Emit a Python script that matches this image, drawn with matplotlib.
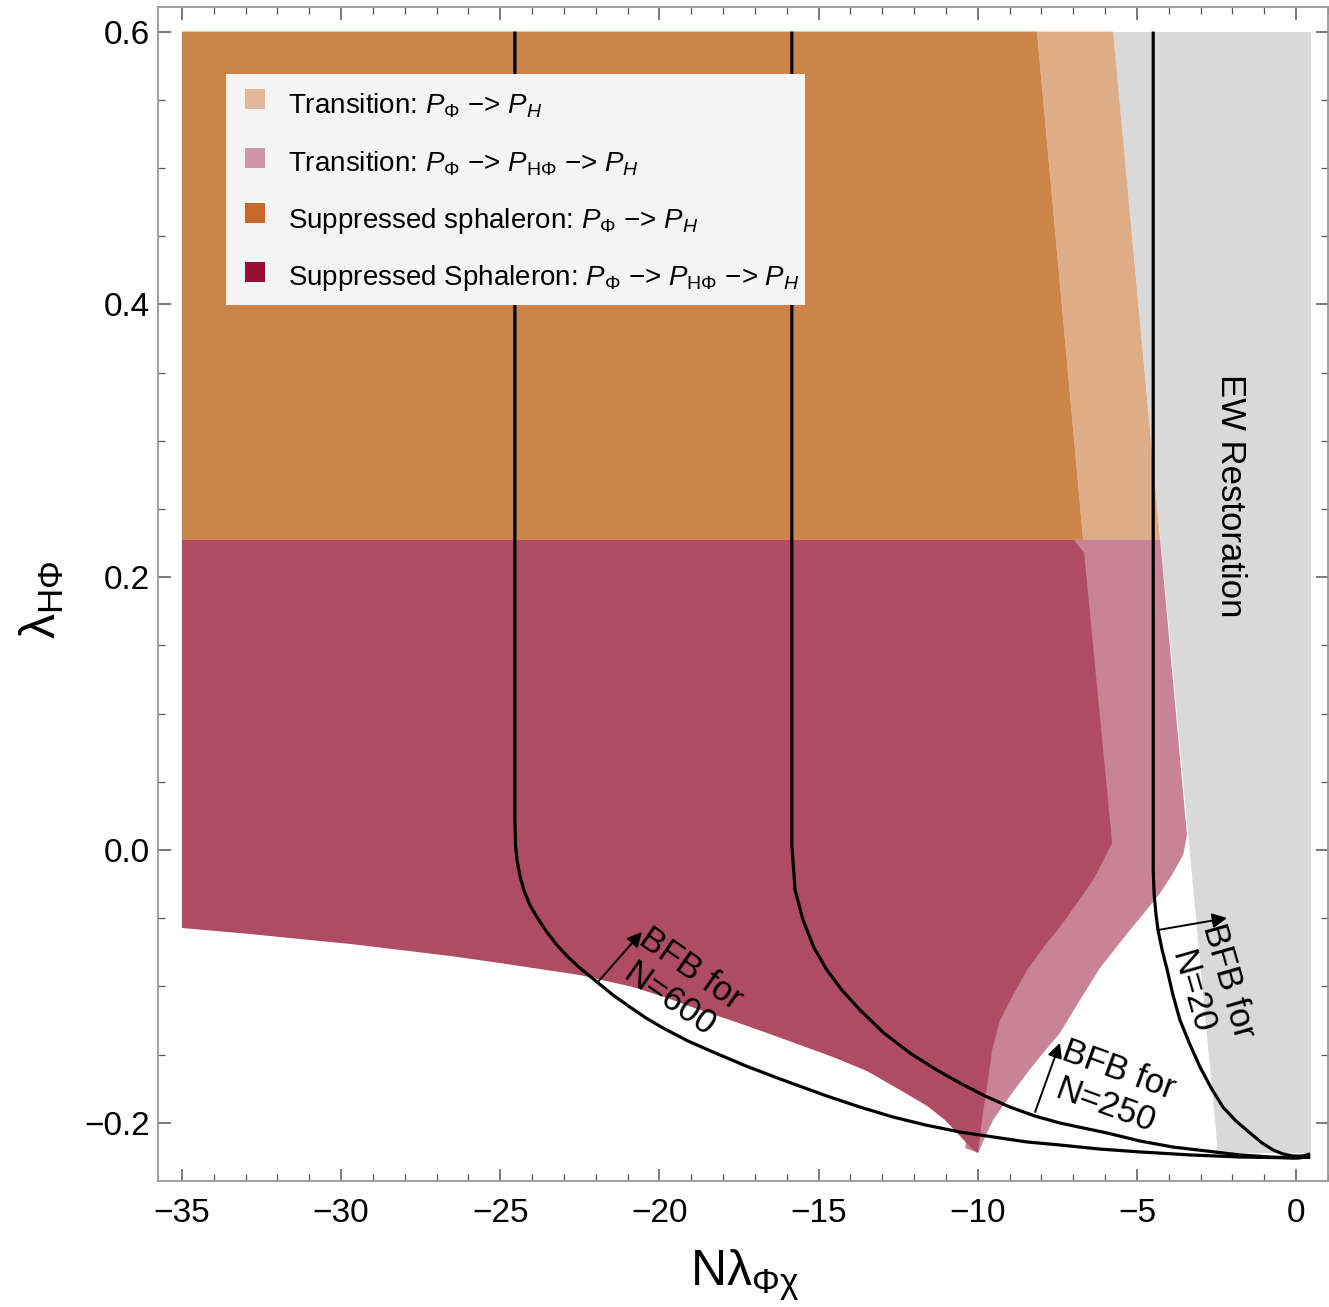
import matplotlib
matplotlib.use("Agg")
import matplotlib.pyplot as plt
from matplotlib.patches import Rectangle
from matplotlib.ticker import MultipleLocator

plt.rcParams['font.family'] = ['Liberation Sans', 'DejaVu Sans']
plt.rcParams['mathtext.fontset'] = 'custom'
plt.rcParams['mathtext.rm'] = 'Liberation Sans'
plt.rcParams['mathtext.it'] = 'Liberation Sans:italic'
plt.rcParams['mathtext.bf'] = 'Liberation Sans:bold'

# ---------------- data ----------------
# Suppressed sphaleron P_Phi -> P_H
orange_x = [-35.0, -35.0, -8.14, -6.69]
orange_y = [0.2273, 0.6, 0.6, 0.2273]
# Transition P_Phi -> P_H
lorange_x = [-8.14, -5.75, -4.27, -6.69]
lorange_y = [0.6, 0.6, 0.2273, 0.2273]
# EW restoration
gray_x = [-5.75, 0.46, 0.46, -2.45]
gray_y = [0.6, 0.6, -0.222, -0.222]
# Transition P_Phi -> P_HPhi -> P_H (outer envelope)
pink_x = [-6.98, -4.27, -3.43, -3.55, -3.90, -4.27, -4.75, -5.22, -5.69, -6.16, -6.79, -7.42,
          -7.95, -8.45, -8.99, -9.52, -9.77, -9.99, -10.40]
pink_y = [0.2273, 0.2273, 0.011, -0.0037, -0.0183, -0.0315, -0.0455, -0.0587, -0.0726, -0.0865,
          -0.110, -0.1342, -0.1489, -0.1635, -0.1804, -0.198, -0.2104, -0.2222, -0.2185]
# Suppressed Sphaleron P_Phi -> P_HPhi -> P_H
crim_x = [-35.0, -6.98, -6.66, -5.78, -6.16, -6.38, -6.88, -7.42, -7.95, -8.45, -8.89, -9.30,
          -9.55, -9.71, -9.87, -9.99,
          -10.24, -10.56, -11.03, -11.59, -12.44, -13.48, -14.55, -15.58, -16.62, -17.69, -18.73,
          -19.76, -20.83, -22.50, -23.75, -25.01, -26.58, -28.15, -29.72, -31.29, -32.86, -35.0]
crim_y = [0.2273, 0.2273, 0.2178, 0.0051, -0.0125, -0.022, -0.0389, -0.0565, -0.0719, -0.088,
          -0.1063, -0.1247, -0.1467, -0.1738, -0.198, -0.2222,
          -0.2178, -0.2097, -0.1980, -0.1877, -0.1760, -0.1621, -0.1518, -0.1430, -0.1342, -0.1254,
          -0.1173, -0.1085, -0.1005, -0.0917, -0.0873, -0.0829, -0.0777, -0.0733, -0.0689, -0.0653,
          -0.0616, -0.0572]

# BFB curves
n600_x = [-24.54, -24.54, -24.52, -24.475, -24.38, -24.26, -24.07, -23.85, -23.56, -23.22, -22.87,
          -22.50, -21.96, -21.46, -20.93, -20.42, -19.89, -19.10, -18.32, -17.28, -16.21, -14.74,
          -13.70, -12.66, -11.63, -10.56, -8.45, -7.42, -6.16, -4.90, -3.33, -1.76, -0.03, 0.44]
n600_y = [0.6, 0.022, 0.0037, -0.0073, -0.0191, -0.0293, -0.0403, -0.0491, -0.0594, -0.0697, -0.0785,
          -0.0865, -0.0968, -0.1063, -0.1151, -0.1232, -0.1305, -0.1401, -0.1481, -0.1584, -0.1679,
          -0.1804, -0.1885, -0.1958, -0.2017, -0.2068, -0.2141, -0.2163, -0.2193, -0.2214, -0.2236,
          -0.2251, -0.2258, -0.2251]
n250_x = [-15.84, -15.84, -15.84, -15.80, -15.74, -15.49, -15.14, -14.74, -14.27, -13.70, -12.95,
          -12.13, -11.34, -10.56, -9.77, -8.99, -8.20, -7.42, -5.94, -4.90, -3.87, -1.76, -0.82,
          -0.03, 0.44]
n250_y = [0.6, 0.022, 0.0037, -0.0095, -0.0293, -0.0513, -0.0719, -0.0880, -0.1027, -0.1173, -0.1342,
          -0.1489, -0.1606, -0.1709, -0.1804, -0.1885, -0.1951, -0.2002, -0.2075, -0.2134, -0.2178,
          -0.2236, -0.2251, -0.2258, -0.2251]
n20_x = [-4.49, -4.49, -4.49, -4.46, -4.40, -4.34, -4.21, -4.05, -3.87, -3.65, -3.33, -3.02, -2.67,
         -2.30, -1.89, -1.45, -1.07, -0.72, -0.41, -0.10, 0.19, 0.44]
n20_y = [0.6, 0.022, -0.0147, -0.0330, -0.0477, -0.0587, -0.0733, -0.0880, -0.1063, -0.1247, -0.1430,
         -0.1591, -0.1745, -0.1885, -0.1987, -0.2075, -0.2148, -0.2200, -0.2229, -0.2244, -0.2244,
         -0.2229]

xticks = [-35, -30, -25, -20, -15, -10, -5, 0]
xticklabels = ["−35", "−30", "−25", "−20", "−15", "−10", "−5", "0"]
yticks = [-0.2, 0.0, 0.2, 0.4, 0.6]
yticklabels = ["−0.2", "0.0", "0.2", "0.4", "0.6"]

legend_labels = [r"Transition: $P_{\Phi}$ −> $P_H$",
                 r"Transition: $P_{\Phi}$ −> $P_{\mathrm{H\Phi}}$ −> $P_H$",
                 r"Suppressed sphaleron: $P_{\Phi}$ −> $P_H$",
                 r"Suppressed Sphaleron: $P_{\Phi}$ −> $P_{\mathrm{H\Phi}}$ −> $P_H$"]
legend_colors = ['#E2B898', '#D196A5', '#C4692A', '#970F33']

# ---------------- figure ----------------
W, H = 1329, 1307
AX_L, AX_R, AX_T, AX_B = 158, 1328, 7, 1181
fig = plt.figure(figsize=(W / 100, H / 100), dpi=100)
ax = fig.add_axes([AX_L / W, 1 - AX_B / H, (AX_R - AX_L) / W, (AX_B - AX_T) / H])


def axfrac(px, py):
    return (px - AX_L) / (AX_R - AX_L), (AX_B - py) / (AX_B - AX_T)


ax.fill(gray_x, gray_y, color='#D9D9D9', lw=0, zorder=1)
ax.fill(lorange_x, lorange_y, color='#DEAD86', lw=0, zorder=2)
ax.fill(orange_x, orange_y, color='#CC8449', lw=0, zorder=2)
ax.fill(pink_x, pink_y, color='#C98396', lw=0, zorder=3)
ax.fill(crim_x, crim_y, color='#AF4C64', lw=0, zorder=4)

for cx, cy in [(n600_x, n600_y), (n250_x, n250_y), (n20_x, n20_y)]:
    ax.plot(cx, cy, color='black', lw=2.3, zorder=6, solid_joinstyle='round',
            solid_capstyle='butt')

arrow_kw = dict(arrowstyle='-|>', color='black', lw=1.4, mutation_scale=22, shrinkA=0, shrinkB=0)
ax.annotate('', xy=(-20.55, -0.0601), xytext=(-21.96, -0.0975), arrowprops=arrow_kw, zorder=7)
ax.annotate('', xy=(-7.42, -0.1415), xytext=(-8.20, -0.1921), arrowprops=arrow_kw, zorder=7)
ax.annotate('', xy=(-2.17, -0.0499), xytext=(-4.34, -0.0587), arrowprops=arrow_kw, zorder=7)

txt_kw = dict(ha='center', va='center', fontsize=25, rotation_mode='anchor', zorder=8,
              linespacing=1.2)
ax.text(-19.35, -0.0985, "BFB for\nN=600", rotation=-35, **txt_kw)
ax.text(-5.78, -0.1745, "BFB for\nN=250", rotation=-20, **txt_kw)
ax.text(-2.70, -0.100, "BFB for\nN=20", rotation=-74, **txt_kw)
ax.text(-2.07, 0.260, "EW Restoration", rotation=-90, ha='center', va='center',
        fontsize=25, zorder=8)

ax.set_xlim(-35.75, 1.0)
ax.set_ylim(-0.2427, 0.618)
ax.set_xticks(xticks)
ax.set_xticklabels(xticklabels)
ax.set_yticks(yticks)
ax.set_yticklabels(yticklabels)
ax.xaxis.set_minor_locator(MultipleLocator(1))
ax.yaxis.set_minor_locator(MultipleLocator(0.05))
ax.tick_params(which='both', direction='in', top=True, right=True, color='#555555')
ax.tick_params(which='major', length=9, width=1.1, labelsize=24)
ax.tick_params(which='minor', length=5, width=0.9)
ax.tick_params(axis='x', which='major', pad=12)
ax.tick_params(axis='y', which='major', pad=6)
for s in ax.spines.values():
    s.set_color('#999999')
    s.set_linewidth(1.3)

# legend box (manual, to match the reference layout)
x0, y1 = axfrac(226, 74)
x1, y0 = axfrac(805, 305)
ax.add_patch(Rectangle((x0, y0), x1 - x0, y1 - y0, transform=ax.transAxes,
                       facecolor='#F4F4F4', edgecolor='none', zorder=10))
row_sw = [99, 158, 213, 272]
row_base = [114, 172, 228, 285]
for lab, col, ys, yb in zip(legend_labels, legend_colors, row_sw, row_base):
    sx0, sy1 = axfrac(245, ys - 10)
    sx1, sy0 = axfrac(265, ys + 10)
    ax.add_patch(Rectangle((sx0, sy0), sx1 - sx0, sy1 - sy0, transform=ax.transAxes,
                           facecolor=col, edgecolor='none', zorder=11))
    tx, ty = axfrac(288, yb)
    ax.text(tx, ty, lab, transform=ax.transAxes, ha='left', va='baseline', fontsize=20,
            zorder=12)

fig.text(745 / W, 1 - 1275 / H, r"Nλ$_{\mathrm{\Phi\chi}}$", ha='center', va='center', fontsize=36)
fig.text(42 / W, 1 - 600 / H, r"λ$_{\mathrm{H\Phi}}$", ha='center', va='center',
         fontsize=36, rotation=90)

fig.savefig("out.png", dpi=100)
